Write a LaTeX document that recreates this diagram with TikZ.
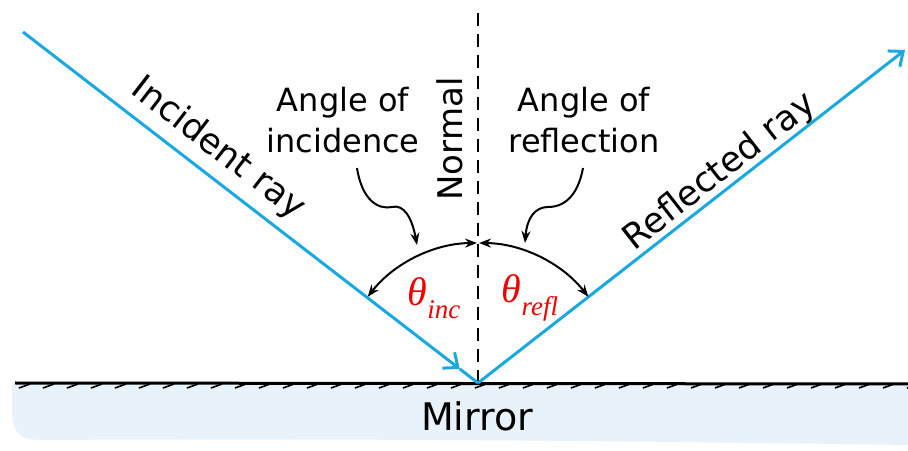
\documentclass[tikz,border=0pt]{standalone}
\usepackage{fontspec}
\setmainfont{DejaVu Sans}
\newfontfamily\thetafont{Liberation Serif}
\usetikzlibrary{arrows.meta,calc}
\definecolor{raycol}{HTML}{1BA8E0}
\definecolor{mirrorfill}{HTML}{E8F2FA}
\definecolor{thetacol}{HTML}{F00000}
\newcommand{\thetalbl}[1]{{\thetafont\itshape θ\raisebox{-0.32em}{\fontsize{27}{28}\selectfont #1}}}

\begin{document}
\begin{tikzpicture}[x=1pt,y=1pt,
  ray/.style={draw=raycol,line width=3pt},
  lbl/.style={font=\fontsize{32}{41}\selectfont,align=center,inner sep=0pt},
  ang/.style={font=\fontsize{40}{42}\selectfont,text=thetacol,inner sep=0pt},
  pen/.style={line width=2pt},
  >={Stealth[length=12pt,width=9pt]}]
  \useasboundingbox (0,0) rectangle (908,450);
  % mirror
  \fill[mirrorfill] (12,66) -- (908,66) -- (908,5)
    .. controls (700,8) and (400,12) .. (40,10)
    .. controls (18,10) and (12,20) .. (12,40) -- cycle;
  \draw[line width=3pt] (15,67) -- (908,66);
  \foreach \i in {0,...,37} \draw[line width=1.6pt] (30+24*\i,66) -- ++(-11,-4);
  \node[lbl,font=\fontsize{38}{40}\selectfont] (mir) at (477,34) {Mirror};
  % rays and normal
  \coordinate (P) at (478,67);
  \coordinate (inc) at (23,418);
  \coordinate (refl) at (905,400);
  \coordinate (ntop) at (478,442);
  \draw[line width=1.8pt,dash pattern=on 13pt off 8pt] (P) -- (ntop);
  \draw[ray,-{Straight Barb[length=12pt,width=20pt]}] (inc) -- ($(inc)!0.96!(P)$) coordinate (inchead);
  \draw[ray] (inchead) -- (P);
  \draw[ray,-{Straight Barb[length=12pt,width=20pt]}] (P) -- (refl);
  % angles
  \draw[pen,<->] ($(P)+(142:140)$) arc[start angle=142,end angle=90.4,radius=140];
  \draw[pen,<->] ($(P)+(89.6:140)$) arc[start angle=89.6,end angle=38,radius=140];
  \node[ang] (thinc) at (434,152) {\thetalbl{inc}};
  \node[ang] (threfl) at (530,152) {\thetalbl{refl}};
  % labels
  \node[lbl] (aoi) at (343,330) {Angle of\\incidence};
  \node[lbl] (aor) at (584,330) {Angle of\\reflection};
  \node[lbl,font=\fontsize{34}{36}\selectfont,rotate=90] (nrm) at (450,311) {Normal};
  \node[lbl,font=\fontsize{35}{36}\selectfont,rotate=-37.6] (irl) at (218,301) {Incident ray};
  \node[lbl,font=\fontsize{35}{36}\selectfont,rotate=38] (rrl) at (720,278) {Reflected ray};
  \coordinate (aoitip) at (417,205);
  \coordinate (aortip) at (525,207);
  \draw[pen,->] (357,282) .. controls (362,250) and (378,240) .. (392,243)
    .. controls (404,246) and (412,232) .. (aoitip);
  \draw[pen,->] (583,282) .. controls (578,255) and (565,243) .. (548,243)
    .. controls (535,243) and (527,232) .. (aortip);
\end{tikzpicture}
\end{document}
